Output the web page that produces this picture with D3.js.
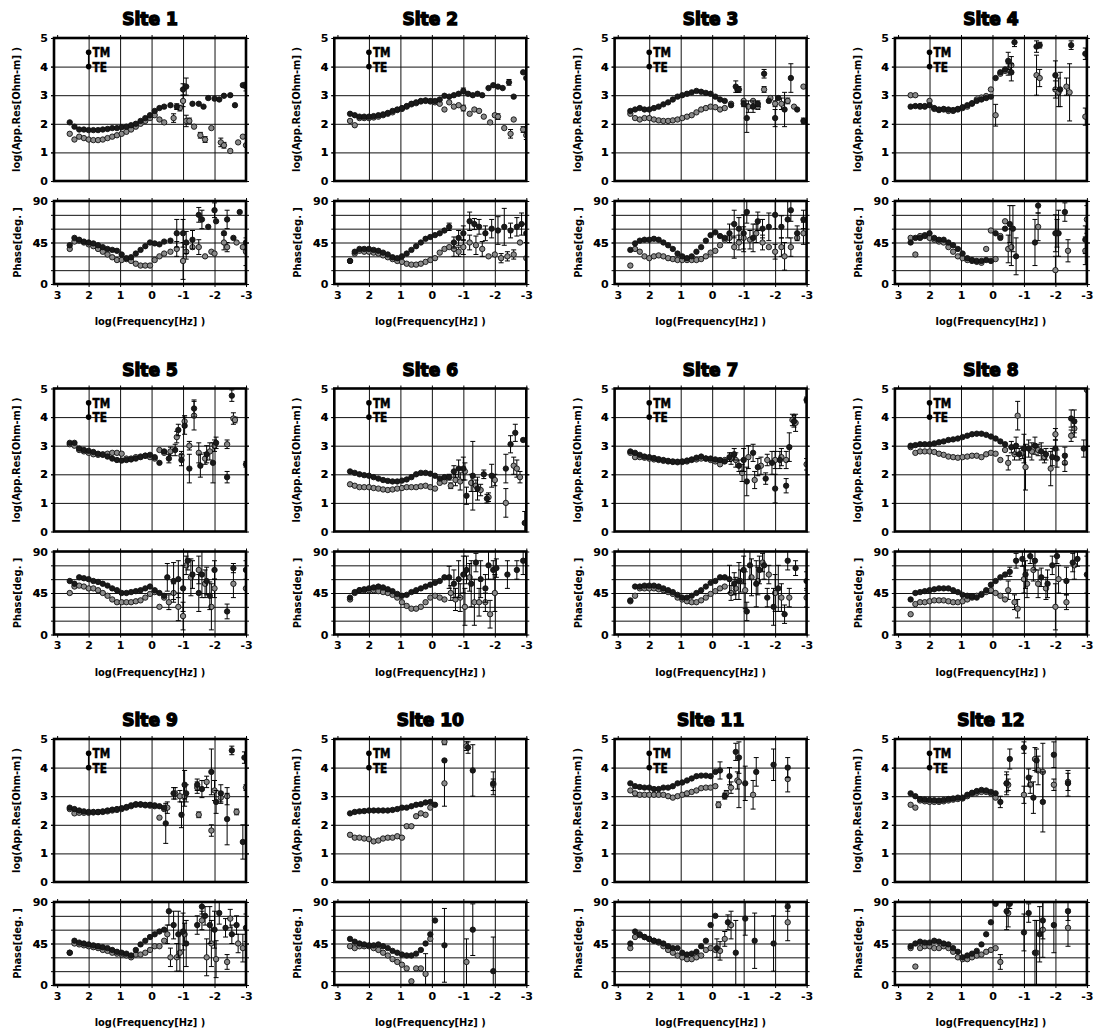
<!DOCTYPE html>
<html>
<head>
<meta charset="utf-8">
<script src="https://cdn.jsdelivr.net/npm/d3@7"></script>
<style>
    body { margin: 0; background: #fff; }
    svg { display: block; }
    .tick text { font-family: "DejaVu Sans", sans-serif; font-weight: bold; font-size: 11px; fill: #000; }
    .grid line { stroke: #111; stroke-width: 1; }
    .grid path { display: none; }
</style>
</head>
<body>
<svg id="chart"></svg>
<script>
var SITES = ["Site 1", "Site 2", "Site 3", "Site 4", "Site 5", "Site 6",
    "Site 7", "Site 8", "Site 9", "Site 10", "Site 11", "Site 12"];

// log10 frequency of the densely sampled band
var LOGF = [2.6, 2.45, 2.3, 2.15, 2.0, 1.85, 1.7, 1.55, 1.4, 1.25, 1.1,
    0.95, 0.8, 0.65, 0.5, 0.35, 0.2, 0.05, -0.1, -0.25, -0.4];

var RHO_TICKS = [0, 1, 2, 3, 4, 5];
var PHASE_TICKS = [0, 45, 90];
var PHASE_GRID = [15, 30, 45, 60, 75];
var FREQ_TICKS = [3, 2, 1, 0, -1, -2, -3];

// log apparent resistivity, dense band (one row per site)
var tmRho = [
    [2.05, 1.9, 1.8, 1.8, 1.78, 1.78, 1.78, 1.8, 1.82, 1.85, 1.85, 1.88, 1.9, 1.95, 2.0, 2.1, 2.2, 2.3, 2.45, 2.55, 2.6],
    [2.35, 2.3, 2.25, 2.25, 2.25, 2.27, 2.3, 2.33, 2.38, 2.45, 2.5, 2.55, 2.62, 2.7, 2.75, 2.8, 2.82, 2.8, 2.8, 2.85, 2.98],
    [2.45, 2.5, 2.55, 2.5, 2.5, 2.55, 2.6, 2.68, 2.75, 2.85, 2.95, 3.0, 3.05, 3.1, 3.15, 3.12, 3.08, 3.05, 2.95, 2.85, 2.8],
    [2.6, 2.62, 2.62, 2.6, 2.65, 2.55, 2.5, 2.52, 2.5, 2.48, 2.52, 2.58, 2.65, 2.72, 2.8, 2.85, 2.9, 2.95, 3.6, 3.8, 3.9],
    [3.1, 3.1, 2.9, 2.85, 2.82, 2.78, 2.72, 2.68, 2.62, 2.55, 2.5, 2.48, 2.5, 2.52, 2.55, 2.6, 2.65, 2.68, 2.6, 2.4, 2.8],
    [2.1, 2.05, 2.0, 1.97, 1.95, 1.9, 1.85, 1.8, 1.77, 1.75, 1.75, 1.78, 1.82, 1.9, 2.0, 2.05, 2.05, 2.02, 1.95, 1.85, 1.9],
    [2.8, 2.75, 2.68, 2.62, 2.6, 2.57, 2.53, 2.5, 2.47, 2.45, 2.44, 2.45, 2.48, 2.52, 2.58, 2.62, 2.55, 2.55, 2.52, 2.5, 2.45],
    [3.0, 3.02, 3.05, 3.05, 3.05, 3.08, 3.12, 3.15, 3.2, 3.22, 3.25, 3.3, 3.35, 3.4, 3.42, 3.42, 3.38, 3.32, 3.25, 3.15, 3.05],
    [2.6, 2.55, 2.5, 2.47, 2.45, 2.45, 2.45, 2.47, 2.5, 2.53, 2.55, 2.58, 2.62, 2.68, 2.72, 2.72, 2.7, 2.7, 2.68, 2.65, 2.6],
    [2.4, 2.45, 2.47, 2.48, 2.5, 2.5, 2.5, 2.5, 2.5, 2.52, 2.55, 2.6, 2.6, 2.65, 2.7, 2.72, 2.78, 2.8, 2.7, null, null],
    [3.45, 3.35, 3.32, 3.3, 3.3, 3.25, 3.25, 3.3, 3.3, 3.35, 3.45, 3.48, 3.55, 3.62, 3.7, 3.72, 3.72, 3.7, 3.85, null, null],
    [3.1, 3.0, 2.9, 2.88, 2.87, 2.86, 2.85, 2.87, 2.9, 2.92, 2.95, 2.95, 3.05, 3.12, 3.18, 3.22, 3.2, 3.15, 3.1, null, null]
];
var teRho = [
    [1.65, 1.45, 1.55, 1.5, 1.45, 1.43, 1.43, 1.45, 1.5, 1.55, 1.6, 1.65, 1.72, 1.8, 1.9, 2.0, 2.1, 2.2, 2.3, 2.15, 2.05],
    [2.1, 1.95, 2.2, 2.2, 2.2, 2.22, 2.25, 2.3, 2.35, 2.4, 2.48, 2.52, 2.6, 2.68, 2.72, 2.78, 2.8, 2.78, 2.75, 2.7, 2.5],
    [2.35, 2.2, 2.15, 2.2, 2.2, 2.15, 2.12, 2.1, 2.1, 2.12, 2.15, 2.2, 2.25, 2.3, 2.4, 2.5, 2.55, 2.6, 2.58, 2.5, 2.55],
    [3.0, 3.0, 2.6, 2.62, 2.8, 2.52, 2.48, 2.5, 2.45, 2.45, 2.5, 2.55, 2.6, 2.7, 2.85, 2.92, 2.97, 3.2, null, 3.75, 3.85],
    [3.05, 3.0, 2.85, 2.8, 2.75, 2.7, 2.68, 2.7, 2.72, 2.75, 2.75, 2.72, 2.55, 2.55, 2.6, 2.62, 2.65, 2.6, 2.55, 2.85, 2.75],
    [1.65, 1.6, 1.55, 1.55, 1.55, 1.52, 1.5, 1.47, 1.45, 1.47, 1.5, 1.52, 1.55, 1.55, 1.55, 1.58, 1.6, 1.55, 1.5, 1.7, 1.75],
    [2.75, 2.6, 2.6, 2.58, 2.55, 2.52, 2.5, 2.47, 2.45, 2.43, 2.42, 2.43, 2.45, 2.5, 2.52, 2.55, 2.55, 2.5, 2.45, 2.35, 2.5],
    [2.95, 2.75, 2.8, 2.8, 2.8, 2.78, 2.72, 2.68, 2.62, 2.6, 2.58, 2.6, 2.62, 2.65, 2.65, 2.6, 2.7, 2.75, 2.72, 2.5, 2.85],
    [2.55, 2.4, 2.42, 2.42, 2.42, 2.43, 2.44, 2.45, 2.47, 2.5, 2.52, 2.55, 2.6, 2.65, 2.7, 2.7, 2.68, 2.67, 2.65, 2.25, 2.55],
    [1.65, 1.55, 1.55, 1.52, 1.5, 1.42, 1.45, 1.52, 1.55, 1.55, 1.6, 1.55, 1.95, 1.95, 2.3, 2.4, 2.35, 2.6, null, null, null],
    [3.2, 3.1, 3.05, 3.05, 3.05, 3.05, 3.05, 3.05, 3.0, 2.95, 3.0, 3.05, 3.1, 3.15, 3.2, 3.28, 3.3, 3.3, 3.35, null, null],
    [2.7, 2.6, 2.85, 2.82, 2.8, 2.8, 2.8, 2.82, 2.85, 2.88, 2.9, 2.92, 3.0, 3.08, 3.12, 3.15, 3.15, 3.1, 2.95, null, null]
];

// phase in degrees, dense band
var tmPhase = [
    [42, 50, 48, 46, 45, 44, 42, 40, 38, 37, 36, 32, 28, 29, 33, 37, 41, 45, 44, 43, 46],
    [25, 35, 38, 38, 38, 37, 36, 34, 32, 29, 28, 30, 33, 37, 41, 45, 49, 51, 53, 55, 58],
    [37, 44, 47, 48, 48, 49, 48, 45, 42, 38, 33, 30, 28, 30, 35, 40, 47, 53, 56, 52, 50],
    [45, 50, 50, 52, 55, 50, 48, 48, 45, 42, 38, 33, 28, 26, 25, 25, 26, 25, 55, 50, 60],
    [58, 55, 62, 61, 60, 58, 57, 55, 53, 50, 48, 45, 45, 46, 47, 48, 50, 52, 48, 45, 42],
    [40, 46, 48, 49, 50, 51, 52, 51, 49, 47, 44, 42, 43, 46, 48, 50, 52, 54, 56, 58, 62],
    [37, 52, 52, 53, 53, 53, 52, 50, 48, 46, 43, 40, 40, 42, 45, 48, 52, 56, 58, 62, 62],
    [38, 45, 46, 47, 48, 49, 50, 50, 50, 48, 46, 43, 42, 41, 40, 43, 48, 54, 58, 62, 65],
    [35, 48, 46, 45, 44, 43, 42, 41, 40, 38, 36, 35, 34, 32, 38, 44, 48, 52, 55, 58, 60],
    [50, 47, 45, 44, 43, 43, 44, 42, 40, 37, 35, 33, 32, 32, 34, 38, 45, 55, 70, null, null],
    [45, 58, 55, 52, 50, 48, 47, 45, 42, 40, 40, 35, 33, 34, 36, 42, 48, 65, 75, null, null],
    [42, 45, 47, 46, 46, 48, 47, 45, 44, 40, 36, 30, 32, 34, 37, 44, 55, 68, 88, null, null]
];
var tePhase = [
    [38, 46, 47, 45, 43, 41, 38, 35, 32, 29, 26, 26, 27, 25, 22, 20, 20, 20, 26, 30, 33],
    [25, 33, 36, 35, 35, 34, 33, 31, 29, 27, 25, 24, 22, 21, 21, 22, 24, 26, 28, 34, 38],
    [20, 38, 35, 30, 28, 30, 31, 30, 28, 27, 26, 26, 26, 26, 26, 27, 30, 34, 36, 42, 48],
    [50, 32, 52, 53, 50, 48, 46, 45, 40, 35, 30, 28, 26, 25, 24, 23, 38, 58, 27, 52, 68],
    [45, 52, 53, 52, 50, 50, 48, 45, 42, 38, 35, 35, 35, 35, 36, 37, 40, 44, 46, 30, 40],
    [38, 45, 48, 48, 48, 48, 47, 46, 45, 43, 40, 35, 31, 28, 28, 30, 35, 40, 42, 40, 38],
    [36, 42, 50, 50, 50, 50, 49, 48, 46, 44, 40, 38, 36, 35, 35, 37, 40, 44, 47, 50, 52],
    [22, 33, 35, 35, 36, 37, 37, 37, 36, 35, 35, 36, 38, 40, 42, 44, 46, 48, 45, 42, 38],
    [35, 45, 44, 43, 42, 41, 40, 38, 37, 35, 34, 33, 32, 30, 33, 33, 35, 38, 42, 42, 48],
    [42, 40, 42, 42, 42, 40, 38, 35, 32, 28, 25, 22, 18, 4, 18, 18, null, 50, null, null, null],
    [40, 52, 54, 52, 50, 48, 46, 42, 38, 35, 32, 30, 28, 28, 30, 32, 38, 40, 38, null, null],
    [40, 20, 40, 42, 42, 40, 40, 42, 40, 36, 30, 28, 28, 30, 32, 33, 36, 38, 40, null, null]
];

// sparse long-period points: [log10 f, value, error half-width]
var tmRhoTail = [
    [[-0.6, 2.65, 0], [-0.8, 2.6, 0.1], [-1.0, 3.2, 0.2], [-1.1, 3.3, 0.3], [-1.3, 2.7, 0], [-1.5, 2.7, 0], [-1.65, 2.6, 0], [-1.8, 2.9, 0], [-2.0, 2.88, 0], [-2.15, 2.85, 0], [-2.3, 2.98, 0], [-2.5, 3.0, 0], [-2.65, 2.65, 0], [-2.9, 3.35, 0], [-3.0, 3.3, 0.15]],
    [[-0.55, 2.95, 0], [-0.7, 3.0, 0], [-0.85, 3.05, 0], [-1.0, 3.15, 0.1], [-1.15, 3.05, 0], [-1.3, 3.0, 0], [-1.45, 3.05, 0], [-1.6, 3.0, 0], [-1.8, 3.25, 0], [-1.95, 3.35, 0], [-2.1, 3.3, 0], [-2.25, 3.25, 0], [-2.45, 3.45, 0.1], [-2.6, 2.95, 0], [-2.9, 3.8, 0], [-3.0, 3.6, 0]],
    [[-0.6, 2.65, 0], [-0.75, 3.3, 0.2], [-0.85, 3.2, 0.1], [-1.0, 2.7, 0.1], [-1.1, 2.2, 0.5], [-1.3, 2.6, 0.2], [-1.45, 2.7, 0.1], [-1.65, 3.75, 0.15], [-1.8, 2.8, 0], [-2.0, 2.2, 0.3], [-2.1, 2.9, 0], [-2.3, 2.5, 0.6], [-2.5, 3.6, 0.5], [-2.7, 2.5, 0], [-2.9, 2.1, 0.1]],
    [[-0.5, 4.2, 0.3], [-0.6, 3.8, 0.3], [-0.7, 4.85, 0.15], [-1.4, 4.7, 0.2], [-1.5, 4.75, 0.1], [-2.0, 3.7, 0.5], [-2.15, 3.2, 0.6], [-2.5, 4.75, 0.15], [-2.95, 4.45, 0.2]],
    [[-0.55, 2.55, 0.15], [-0.75, 2.85, 0.2], [-0.85, 3.55, 0.2], [-0.95, 2.5, 0.2], [-1.05, 3.7, 0.3], [-1.2, 2.2, 0.5], [-1.35, 4.3, 0.3], [-1.55, 2.3, 0.4], [-1.75, 2.7, 0.3], [-1.95, 2.4, 0.7], [-2.05, 3.1, 0.2], [-2.4, 1.9, 0.2], [-2.55, 4.75, 0.2], [-3.0, 2.35, 0.1]],
    [[-0.55, 1.9, 0.1], [-0.7, 2.1, 0.2], [-0.85, 2.2, 0.3], [-1.0, 2.2, 0.4], [-1.1, 1.25, 0.3], [-1.3, 1.95, 1.2], [-1.45, 1.5, 0.4], [-1.65, 2.0, 0.15], [-1.75, 1.15, 0.15], [-1.9, 1.95, 0.4], [-2.35, 2.2, 0.5], [-2.5, 3.05, 0.3], [-2.65, 3.45, 0.3], [-2.9, 3.2, 0], [-2.95, 0.3, 0.4]],
    [[-0.55, 2.6, 0.15], [-0.7, 2.7, 0.2], [-0.85, 2.3, 0.2], [-1.0, 2.5, 0.4], [-1.1, 1.75, 0.5], [-1.3, 2.75, 0.3], [-1.45, 2.25, 0.3], [-1.7, 1.85, 0.2], [-1.9, 2.4, 0.4], [-2.0, 1.5, 0.5], [-2.15, 2.5, 0.3], [-2.35, 1.6, 0.25], [-2.45, 2.95, 0.5], [-2.6, 3.85, 0.2], [-3.0, 4.6, 0.1]],
    [[-0.6, 2.95, 0.2], [-0.75, 3.0, 0.3], [-0.85, 2.7, 0.2], [-1.0, 2.9, 0.5], [-1.15, 2.9, 0.3], [-1.35, 3.0, 0.3], [-1.55, 2.8, 0.3], [-1.7, 2.7, 0.2], [-1.9, 2.6, 0.3], [-2.0, 2.9, 0.3], [-2.05, 2.55, 0.3], [-2.3, 2.65, 0.3], [-2.5, 3.95, 0.3], [-2.6, 3.85, 0.4], [-2.9, 2.9, 0.3]],
    [[-0.45, 2.05, 0.7], [-0.7, 3.1, 0.2], [-0.95, 2.35, 0.45], [-1.05, 3.4, 0.5], [-1.1, 3.1, 0.3], [-1.45, 3.4, 0.2], [-1.6, 3.25, 0.3], [-1.9, 3.85, 0.8], [-2.05, 2.8, 0.4], [-2.2, 3.1, 0.3], [-2.4, 2.2, 0.9], [-2.55, 4.6, 0.15], [-2.9, 1.4, 0.6], [-2.95, 4.35, 0.2]],
    [[-0.4, 4.25, 0], [-1.15, 4.7, 0.2], [-1.3, 3.9, 0.9], [-1.95, 3.45, 0.4]],
    [[-0.25, 3.9, 0.3], [-0.4, 3.0, 0.1], [-0.55, 3.7, 0.3], [-0.75, 4.55, 0.3], [-0.85, 4.35, 0.55], [-1.05, 3.45, 0.6], [-1.4, 3.85, 0.5], [-1.95, 4.1, 0.55], [-2.4, 4.0, 0.35]],
    [[-0.25, 2.8, 0.2], [-0.45, 3.45, 0.3], [-0.55, 4.3, 0.35], [-1.0, 4.7, 0.2], [-1.15, 3.65, 0.3], [-1.3, 2.95, 0.55], [-1.4, 4.25, 0.4], [-1.6, 2.8, 1.05], [-1.95, 4.45, 0.45], [-2.4, 3.45, 0.45]]
];
var teRhoTail = [
    [[-0.7, 2.2, 0.15], [-0.9, 2.55, 0.1], [-1.0, 2.8, 0.2], [-1.1, 2.1, 0.2], [-1.2, 2.1, 0.1], [-1.35, 1.9, 0], [-1.55, 1.6, 0.1], [-1.7, 1.45, 0.1], [-1.9, 1.85, 0], [-2.2, 1.35, 0.15], [-2.3, 1.25, 0.1], [-2.5, 1.05, 0], [-2.75, 1.35, 0], [-2.9, 1.55, 0], [-3.0, 1.25, 0]],
    [[-0.55, 2.75, 0], [-0.7, 2.6, 0], [-0.85, 2.65, 0], [-1.0, 2.55, 0.1], [-1.2, 2.35, 0], [-1.35, 2.5, 0], [-1.5, 2.45, 0], [-1.65, 2.25, 0], [-1.85, 2.05, 0], [-2.0, 2.3, 0.05], [-2.1, 2.25, 0.1], [-2.3, 1.85, 0], [-2.5, 1.65, 0.15], [-2.6, 2.15, 0], [-2.9, 1.8, 0.1], [-3.0, 1.6, 0.15]],
    [[-0.6, 2.7, 0], [-0.8, 3.2, 0.1], [-1.0, 2.8, 0], [-1.15, 2.6, 0.2], [-1.3, 2.8, 0], [-1.45, 2.6, 0.1], [-1.65, 3.2, 0.1], [-1.85, 2.9, 0], [-2.0, 2.7, 0.1], [-2.2, 2.7, 0.2], [-2.4, 2.8, 0.1], [-2.6, 2.6, 0], [-2.9, 3.3, 0]],
    [[-0.1, 2.3, 0.38], [-0.5, 3.9, 0.2], [-0.6, 4.05, 0.3], [-1.4, 3.7, 0.7], [-1.5, 3.6, 0.3], [-2.0, 3.2, 0.3], [-2.1, 3.1, 0.5], [-2.35, 3.3, 0.3], [-2.45, 3.1, 1.0], [-2.95, 2.25, 0.3]],
    [[-0.6, 2.8, 0.15], [-0.8, 3.3, 0.2], [-0.95, 2.65, 0.15], [-1.05, 3.85, 0.2], [-1.2, 3.0, 0.15], [-1.35, 4.05, 0.5], [-1.5, 2.75, 0.35], [-1.7, 2.55, 0.2], [-1.85, 2.8, 0.3], [-2.0, 3.0, 0.2], [-2.4, 3.05, 0.15], [-2.6, 3.95, 0.2], [-2.65, 3.9, 0.1]],
    [[-0.6, 1.6, 0.1], [-0.75, 1.8, 0.2], [-0.9, 1.75, 0.3], [-1.05, 2.1, 0.3], [-1.25, 1.7, 0.3], [-1.4, 1.6, 0.2], [-1.55, 1.45, 0.2], [-1.8, 1.2, 0.15], [-2.0, 1.8, 0.2], [-2.35, 1.0, 0.5], [-2.6, 2.3, 0.3], [-2.7, 2.2, 0.3], [-2.8, 1.9, 0.2]],
    [[-0.6, 2.55, 0.2], [-0.75, 2.5, 0.25], [-0.95, 2.05, 0.3], [-1.15, 2.6, 0.4], [-1.35, 1.8, 0.3], [-1.55, 2.3, 0.3], [-1.75, 2.5, 0.2], [-2.0, 2.5, 0.3], [-2.2, 2.6, 0.3], [-2.35, 2.5, 0.3], [-2.55, 3.9, 0.2], [-2.65, 3.8, 0.3], [-3.0, 2.35, 0.2]],
    [[-0.5, 2.4, 0.25], [-0.7, 2.7, 0.2], [-0.8, 4.05, 0.5], [-0.95, 2.75, 0.2], [-1.05, 2.25, 0.8], [-1.25, 2.8, 0.3], [-1.45, 2.85, 0.2], [-1.65, 2.6, 0.2], [-1.85, 2.2, 0.6], [-2.0, 3.4, 0.2], [-2.3, 2.4, 0.3], [-2.5, 3.35, 0.2], [-2.6, 3.6, 0.3], [-3.0, 4.95, 0]],
    [[-0.5, 2.6, 0.2], [-0.75, 3.1, 0.2], [-0.9, 3.0, 0.2], [-1.05, 3.0, 0.35], [-1.45, 3.3, 0.2], [-1.5, 2.35, 0.1], [-1.75, 3.5, 0.2], [-1.9, 1.8, 0.2], [-2.0, 3.2, 0.35], [-2.2, 2.95, 0.2], [-2.4, 3.0, 0.3], [-2.7, 2.45, 0.1], [-3.0, 3.3, 0.1]],
    [[-0.4, 3.45, 0.8], [-0.4, 4.9, 0.1], [-1.1, 4.75, 0.15], [-1.95, 3.4, 0.2]],
    [[-0.2, 2.7, 0.1], [-0.45, 3.1, 0.1], [-0.6, 3.3, 0.2], [-0.8, 3.55, 0.3], [-0.85, 3.5, 0.9], [-1.3, 3.05, 0.5], [-2.4, 3.6, 0.45]],
    [[-0.45, 3.45, 0.4], [-0.5, 3.4, 0.2], [-1.0, 3.05, 0.3], [-1.2, 3.4, 0.3], [-1.35, 4.3, 0.4], [-1.45, 3.9, 0.5], [-1.6, 3.85, 1.0], [-1.95, 3.4, 0.2], [-2.4, 3.5, 0.3]]
];
var tmPhaseTail = [
    [[-0.6, 47, 0], [-0.8, 55, 15], [-1.0, 55, 15], [-1.1, 45, 12], [-1.3, 48, 10], [-1.5, 75, 8], [-1.6, 70, 10], [-1.8, 62, 0], [-2.0, 80, 8], [-2.05, 68, 0], [-2.3, 55, 0], [-2.4, 70, 10], [-2.6, 50, 0], [-2.8, 78, 0], [-3.0, 45, 0]],
    [[-0.55, 62, 4], [-0.7, 45, 6], [-0.85, 50, 8], [-1.0, 55, 8], [-1.2, 68, 10], [-1.35, 65, 6], [-1.5, 62, 8], [-1.7, 55, 8], [-1.9, 60, 10], [-2.1, 58, 15], [-2.3, 62, 20], [-2.5, 58, 8], [-2.7, 62, 10], [-2.85, 65, 12], [-3.0, 55, 10]],
    [[-0.55, 55, 10], [-0.7, 65, 15], [-0.85, 60, 12], [-1.0, 55, 20], [-1.1, 78, 12], [-1.3, 50, 15], [-1.45, 68, 10], [-1.6, 60, 10], [-1.8, 62, 15], [-2.0, 75, 15], [-2.2, 62, 12], [-2.4, 70, 20], [-2.5, 80, 12], [-2.7, 55, 8], [-2.9, 70, 10]],
    [[-0.55, 65, 20], [-0.65, 60, 25], [-0.75, 30, 20], [-1.35, 45, 25], [-1.45, 85, 8], [-2.0, 55, 20], [-2.1, 55, 25], [-2.3, 78, 10], [-2.95, 48, 15]],
    [[-0.5, 62, 15], [-0.7, 58, 20], [-0.85, 60, 20], [-1.0, 50, 25], [-1.15, 80, 10], [-1.3, 65, 15], [-1.5, 45, 20], [-1.6, 65, 25], [-1.75, 58, 15], [-1.85, 42, 15], [-2.0, 70, 10], [-2.4, 25, 8], [-2.6, 72, 5], [-3.0, 70, 10]],
    [[-0.55, 62, 12], [-0.7, 55, 15], [-0.85, 60, 20], [-1.0, 65, 20], [-1.1, 70, 15], [-1.25, 55, 25], [-1.4, 78, 10], [-1.55, 60, 20], [-1.7, 50, 15], [-1.8, 75, 15], [-1.95, 70, 10], [-2.05, 72, 10], [-2.4, 65, 15], [-2.7, 70, 10], [-2.9, 80, 15]],
    [[-0.55, 60, 15], [-0.7, 55, 12], [-0.85, 58, 20], [-1.0, 70, 15], [-1.1, 25, 10], [-1.2, 75, 15], [-1.4, 55, 25], [-1.5, 70, 15], [-1.65, 75, 15], [-1.75, 40, 10], [-1.95, 30, 20], [-2.1, 50, 25], [-2.3, 22, 10], [-2.4, 80, 10], [-2.65, 72, 8], [-3.0, 58, 10]],
    [[-0.55, 68, 5], [-0.75, 80, 8], [-0.95, 82, 8], [-1.05, 65, 15], [-1.2, 85, 8], [-1.35, 80, 10], [-1.55, 62, 10], [-1.75, 55, 15], [-1.9, 75, 10], [-2.05, 85, 8], [-2.35, 58, 15], [-2.55, 78, 10], [-2.7, 82, 8], [-3.0, 65, 20]],
    [[-0.55, 80, 15], [-0.7, 65, 15], [-0.85, 55, 25], [-1.0, 58, 20], [-1.1, 45, 25], [-1.45, 65, 10], [-1.6, 85, 8], [-1.7, 75, 10], [-1.85, 65, 20], [-2.0, 60, 20], [-2.15, 78, 12], [-2.35, 62, 10], [-2.55, 55, 10], [-2.7, 65, 10], [-3.0, 62, 15]],
    [[-0.4, 43, 40], [-1.3, 60, 28], [-1.95, 15, 37]],
    [[-0.15, 40, 10], [-0.5, 68, 8], [-0.75, 35, 35], [-1.05, 72, 18], [-1.35, 48, 30], [-1.95, 45, 30], [-2.4, 85, 5]],
    [[-0.45, 80, 20], [-0.55, 88, 5], [-1.0, 57, 20], [-1.15, 78, 10], [-1.35, 35, 35], [-1.5, 55, 30], [-1.6, 70, 20], [-1.95, 65, 30], [-2.4, 80, 10]]
];
var tePhaseTail = [
    [[-0.6, 35, 0], [-0.8, 38, 8], [-1.0, 25, 20], [-1.1, 35, 8], [-1.3, 40, 0], [-1.5, 40, 8], [-1.7, 30, 0], [-1.9, 35, 0], [-2.0, 33, 0], [-2.3, 45, 8], [-2.4, 40, 5], [-2.7, 45, 0], [-2.9, 40, 0], [-3.0, 35, 15]],
    [[-0.55, 40, 0], [-0.7, 38, 8], [-0.85, 35, 5], [-1.0, 40, 8], [-1.2, 45, 8], [-1.4, 42, 10], [-1.6, 38, 8], [-1.8, 30, 0], [-2.0, 32, 0], [-2.2, 28, 5], [-2.4, 30, 5], [-2.6, 32, 5], [-2.8, 45, 0], [-3.0, 28, 0]],
    [[-0.55, 50, 0], [-0.7, 40, 12], [-0.85, 45, 8], [-1.0, 50, 12], [-1.2, 48, 10], [-1.4, 55, 10], [-1.6, 45, 8], [-1.8, 40, 0], [-2.0, 35, 8], [-2.2, 40, 10], [-2.3, 30, 15], [-2.5, 40, 10], [-2.7, 50, 0], [-2.9, 55, 12]],
    [[-0.5, 38, 15], [-0.6, 40, 20], [-1.45, 62, 15], [-2.0, 15, 15], [-2.05, 55, 15], [-2.4, 36, 12], [-2.95, 36, 15], [-3.0, 70, 15]],
    [[-0.55, 35, 8], [-0.7, 45, 10], [-0.85, 30, 15], [-1.0, 20, 15], [-1.1, 75, 10], [-1.25, 62, 20], [-1.5, 70, 15], [-1.7, 55, 15], [-1.9, 30, 25], [-2.0, 50, 10], [-2.6, 55, 15], [-3.0, 50, 0]],
    [[-0.6, 45, 8], [-0.75, 38, 12], [-0.9, 40, 15], [-1.05, 30, 20], [-1.2, 62, 15], [-1.35, 35, 25], [-1.5, 35, 15], [-1.7, 35, 10], [-1.85, 22, 15], [-2.0, 45, 20]],
    [[-0.6, 45, 8], [-0.75, 50, 12], [-0.9, 58, 12], [-1.05, 48, 20], [-1.25, 62, 20], [-1.45, 58, 15], [-1.6, 78, 10], [-1.8, 65, 10], [-2.0, 45, 20], [-2.2, 40, 15], [-2.45, 40, 10], [-3.0, 40, 10]],
    [[-0.5, 48, 10], [-0.7, 35, 8], [-0.8, 28, 10], [-1.0, 60, 15], [-1.1, 55, 15], [-1.3, 70, 12], [-1.45, 55, 15], [-1.7, 50, 12], [-2.0, 30, 25], [-2.1, 60, 15], [-2.35, 35, 8], [-2.6, 75, 15]],
    [[-0.5, 55, 10], [-0.6, 30, 10], [-0.8, 30, 15], [-0.9, 35, 20], [-1.05, 55, 12], [-1.6, 70, 10], [-1.75, 30, 20], [-1.9, 45, 25], [-2.05, 28, 20], [-2.4, 25, 8], [-2.5, 72, 10], [-2.75, 45, 10], [-2.9, 40, 15]],
    [[0.2, 12, 22], [-1.1, 25, 25]],
    [[-0.25, 37, 10], [-0.4, 50, 8], [-0.6, 65, 15], [-2.4, 68, 20]],
    [[-0.25, 25, 8], [-0.5, 78, 15], [-1.4, 35, 35], [-1.6, 60, 30], [-2.4, 62, 20]]
];

var width = 1102;
var height = 1034;

var svg = d3.select("#chart").attr("width", width).attr("height", height);

var colStep = 280.3, rowStep = 350.5;
var plotL = 54, plotR = 246;
var rhoTop = 38, rhoBot = 181, phTop = 201, phBot = 284;

var x = d3.scaleLinear().domain([3.1, -3]).range([plotL, plotR]);
var yRho = d3.scaleLinear().domain([0, 5]).range([rhoBot, rhoTop]);
var yPh = d3.scaleLinear().domain([0, 90]).range([phBot, phTop]);

function densePoints(vals) {
    var pts = [];
    vals.forEach(function (v, k) {
        if (v != null) pts.push([LOGF[k], v, 0]);
    });
    return pts;
}

function drawFrame(g, y, gridVals, labelVals, clipId) {
    var top = y.range()[1], bot = y.range()[0];

    g.append("clipPath").attr("id", clipId)
        .append("rect").attr("x", plotL).attr("y", top)
        .attr("width", plotR - plotL).attr("height", bot - top);

    // vertical grid
    g.append("g").attr("class", "grid")
        .attr("transform", "translate(0," + bot + ")")
        .call(d3.axisBottom(x).tickValues([2, 1, 0, -1, -2]).tickSize(-(bot - top)).tickFormat(""));
    // horizontal grid
    g.append("g").attr("class", "grid")
        .attr("transform", "translate(" + plotL + ",0)")
        .call(d3.axisLeft(y).tickValues(gridVals).tickSize(-(plotR - plotL)).tickFormat(""));

    // outward ticks on all sides
    g.append("g").attr("transform", "translate(" + plotL + ",0)")
        .call(d3.axisLeft(y).tickValues(labelVals.concat(gridVals)).tickSize(3).tickPadding(3)
            .tickFormat(function (d) { return labelVals.indexOf(d) >= 0 ? String(d) : ""; }))
        .call(function (a) { a.select(".domain").remove(); });
    g.append("g").attr("transform", "translate(" + plotR + ",0)")
        .call(d3.axisRight(y).tickValues(labelVals.concat(gridVals)).tickSize(3).tickFormat(""))
        .call(function (a) { a.select(".domain").remove(); });
    g.append("g").attr("transform", "translate(0," + top + ")")
        .call(d3.axisTop(x).tickValues(FREQ_TICKS).tickSize(3).tickFormat(""))
        .call(function (a) { a.select(".domain").remove(); });
}

function drawBorder(g, y) {
    g.append("rect")
        .attr("x", plotL).attr("y", y.range()[1])
        .attr("width", plotR - plotL).attr("height", y.range()[0] - y.range()[1])
        .attr("fill", "none").attr("stroke", "#000").attr("stroke-width", 2.6);
}

function drawSeries(g, pts, y, fill, clipId) {
    var layer = g.append("g").attr("clip-path", "url(#" + clipId + ")");
    var withErr = pts.filter(function (d) { return d[2] > 0; });
    var bars = layer.selectAll(null).data(withErr).enter().append("g");
    bars.append("line")
        .attr("x1", function (d) { return x(d[0]); }).attr("x2", function (d) { return x(d[0]); })
        .attr("y1", function (d) { return y(d[1] - d[2]); }).attr("y2", function (d) { return y(d[1] + d[2]); })
        .attr("stroke", "#000").attr("stroke-width", 1);
    [-1, 1].forEach(function (s) {
        bars.append("line")
            .attr("x1", function (d) { return x(d[0]) - 2.5; }).attr("x2", function (d) { return x(d[0]) + 2.5; })
            .attr("y1", function (d) { return y(d[1] + s * d[2]); }).attr("y2", function (d) { return y(d[1] + s * d[2]); })
            .attr("stroke", "#000").attr("stroke-width", 1);
    });
    layer.selectAll(null).data(pts).enter().append("circle")
        .attr("cx", function (d) { return x(d[0]); })
        .attr("cy", function (d) { return y(d[1]); })
        .attr("r", 2.7)
        .attr("fill", fill)
        .attr("stroke", "#111").attr("stroke-width", 0.9);
}

SITES.forEach(function (name, i) {
    var ox = (i % 4) * colStep;
    var oy = Math.floor(i / 4) * rowStep;
    var g = svg.append("g").attr("transform", "translate(" + ox + "," + oy + ")");

    // title
    g.append("text")
        .attr("x", (plotL + plotR) / 2).attr("y", 25)
        .attr("text-anchor", "middle")
        .style("font-family", "'DejaVu Sans', sans-serif")
        .style("font-weight", "bold").style("font-size", "17px")
        .attr("stroke", "#000").attr("stroke-width", 1.4)
        .text(name);

    // apparent resistivity
    drawFrame(g, yRho, [1, 2, 3, 4], RHO_TICKS, "cr" + i);
    drawSeries(g, densePoints(teRho[i]).concat(teRhoTail[i]), yRho, "#8a8a8a", "cr" + i);
    drawSeries(g, densePoints(tmRho[i]).concat(tmRhoTail[i]), yRho, "#1a1a1a", "cr" + i);
    drawBorder(g, yRho);

    // legend
    var lx = x(2);
    g.append("line").attr("x1", lx).attr("x2", lx)
        .attr("y1", yRho(4.5)).attr("y2", yRho(4.0))
        .attr("stroke", "#000").attr("stroke-width", 1.4);
    [["TM", 4.5], ["TE", 4.0]].forEach(function (L) {
        g.append("circle").attr("cx", lx).attr("cy", yRho(L[1])).attr("r", 2.8).attr("fill", "#000");
        g.append("text")
            .attr("transform", "translate(" + (lx + 4) + "," + (yRho(L[1]) + 5) + ") scale(0.75,1)")
            .style("font-family", "'DejaVu Sans', sans-serif")
            .style("font-weight", "bold").style("font-size", "14px")
            .attr("stroke", "#000").attr("stroke-width", 0.6)
            .text(L[0]);
    });

    // phase
    drawFrame(g, yPh, PHASE_GRID, PHASE_TICKS, "cp" + i);
    drawSeries(g, densePoints(tePhase[i]).concat(tePhaseTail[i]), yPh, "#8a8a8a", "cp" + i);
    drawSeries(g, densePoints(tmPhase[i]).concat(tmPhaseTail[i]), yPh, "#1a1a1a", "cp" + i);
    drawBorder(g, yPh);

    g.append("g").attr("transform", "translate(0," + phBot + ")")
        .call(d3.axisBottom(x).tickValues(FREQ_TICKS).tickSize(3).tickPadding(4)
            .tickFormat(function (d) { return String(d); }))
        .call(function (a) { a.select(".domain").remove(); });

    // axis titles
    var lbl = function (sel) {
        return sel.style("font-family", "'DejaVu Sans Condensed', sans-serif")
            .style("font-weight", "bold").style("font-size", "11px")
            .attr("text-anchor", "middle");
    };
    lbl(g.append("text"))
        .attr("transform", "translate(20," + (rhoTop + rhoBot) / 2 + ") rotate(-90)")
        .text("log(App.Res[Ohm-m] )");
    lbl(g.append("text"))
        .attr("transform", "translate(21," + (phTop + phBot) / 2 + ") rotate(-90)")
        .text("Phase[deg. ]");
    lbl(g.append("text"))
        .attr("x", (plotL + plotR) / 2).attr("y", 325)
        .text("log(Frequency[Hz] )");
});
</script>
</body>
</html>
